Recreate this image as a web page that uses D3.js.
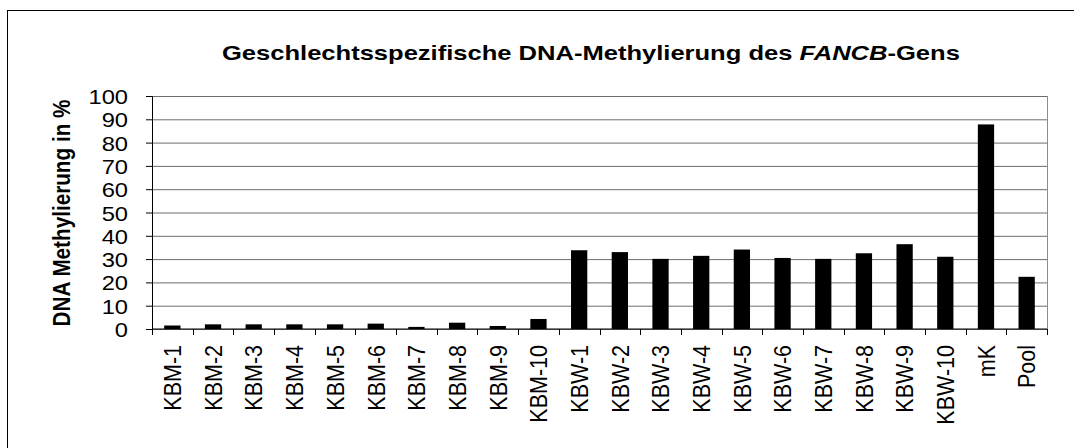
<!DOCTYPE html>
<html>
<head>
<meta charset="utf-8">
<script src="https://cdn.jsdelivr.net/npm/d3@7"></script>
<style>
	body { margin: 0; background: #fff; }
	svg text { font-family: "Liberation Sans", Arial, sans-serif; fill: #000; }
</style>
</head>
<body>
<svg id="graph"></svg>
<script>
var categories = ["KBM-1", "KBM-2", "KBM-3", "KBM-4", "KBM-5", "KBM-6", "KBM-7", "KBM-8", "KBM-9", "KBM-10",
	"KBW-1", "KBW-2", "KBW-3", "KBW-4", "KBW-5", "KBW-6", "KBW-7", "KBW-8", "KBW-9", "KBW-10", "mK", "Pool"];
var methylation = [1.5, 2.0, 2.0, 2.0, 2.0, 2.3, 0.9, 2.7, 1.3, 4.3,
	33.8, 33.0, 30.1, 31.4, 34.1, 30.5, 30.1, 32.5, 36.4, 31.0, 87.8, 22.4];
var yTicks = [0, 10, 20, 30, 40, 50, 60, 70, 80, 90, 100];

var width = 1074, height = 448;
var margin = {top: 96, right: 27, bottom: 119, left: 152};
var plotW = width - margin.left - margin.right,
	plotH = height - margin.top - margin.bottom;
// the picture is a bit wider than tall, text too
var stretch = 1.13;

var svg = d3.select("#graph")
	.attr("width", width)
	.attr("height", height);

// outer frame
svg.append("rect")
	.attr("x", 7.5).attr("y", 10.5)
	.attr("width", width).attr("height", height)
	.attr("fill", "none").attr("stroke", "#000").attr("stroke-width", 1);

var g = svg.append("g")
	.attr("transform", "translate(" + margin.left + "," + margin.top + ")");

var x = d3.scaleBand().domain(categories).range([0, plotW])
	.paddingInner(0.6).paddingOuter(0.3);
var cell = d3.scaleBand().domain(categories).range([0, plotW]);
var y = d3.scaleLinear().domain([0, 100]).range([plotH, 0]);

// grid lines
g.append("g")
	.call(d3.axisLeft(y).tickValues(yTicks).tickSize(-plotW).tickFormat(""))
	.call(function (s) { s.select(".domain").remove(); })
	.selectAll("line").attr("stroke", "#6e6e6e");

// plot border right
g.append("line")
	.attr("x1", plotW + 0.5).attr("x2", plotW + 0.5)
	.attr("y1", 0).attr("y2", plotH)
	.attr("stroke", "#8c8c8c");

// bars
g.selectAll("rect.bar")
	.data(methylation)
	.enter().append("rect")
	.attr("class", "bar")
	.attr("x", function (d, i) { return x(categories[i]); })
	.attr("width", x.bandwidth())
	.attr("y", function (d) { return y(d); })
	.attr("height", function (d) { return plotH - y(d); })
	.attr("fill", "#000");

// y axis
var yAxis = g.append("g")
	.call(d3.axisLeft(y).tickValues(yTicks).tickSize(6).tickPadding(18));
yAxis.select(".domain").attr("stroke", "#000");
yAxis.selectAll("line").attr("stroke", "#000");
yAxis.selectAll("text")
	.style("font-size", "21px")
	.attr("x", -24 / stretch)
	.attr("transform", "scale(" + stretch + ",1)")
	.attr("dy", "0.36em");

// x axis line + ticks between categories
var xa = g.append("g").attr("transform", "translate(0," + plotH + ")");
xa.append("line")
	.attr("x1", 0).attr("x2", plotW)
	.attr("stroke", "#000");
var bounds = categories.map(function (c) { return cell(c); }).concat([plotW]);
xa.selectAll("line.tick")
	.data(bounds)
	.enter().append("line")
	.attr("class", "tick")
	.attr("x1", function (d) { return Math.round(d) + 0.5; })
	.attr("x2", function (d) { return Math.round(d) + 0.5; })
	.attr("y1", 0).attr("y2", 6)
	.attr("stroke", "#000");

xa.selectAll("text.lbl")
	.data(categories)
	.enter().append("text")
	.attr("class", "lbl")
	.attr("transform", function (d) {
		return "translate(" + (cell(d) + cell.bandwidth() / 2) + ",16) scale(" + stretch + ",1) rotate(-90)";
	})
	.attr("text-anchor", "end")
	.attr("dy", "0.36em")
	.style("font-size", "21.5px")
	.text(function (d) { return d; });

// y axis title
var ylab = svg.append("text")
	.attr("text-anchor", "middle")
	.attr("dy", "0.36em")
	.style("font-size", "17px")
	.style("font-weight", "bold")
	.text("DNA Methylierung in %");
var ylen = ylab.node().getComputedTextLength();
ylab.style("font-size", (17 * 227 / ylen) + "px")
	.attr("transform", "translate(62,213) scale(" + stretch + ",1) rotate(-90)");

// title
var title = svg.append("text")
	.style("font-size", "21px")
	.style("font-weight", "bold");
title.append("tspan").text("Geschlechtsspezifische DNA-Methylierung des ");
title.append("tspan").style("font-style", "italic").text("FANCB");
title.append("tspan").text("-Gens");
var tlen = title.node().getComputedTextLength();
title.attr("transform", "translate(222,60) scale(" + (738 / tlen) + ",1)");
</script>
</body>
</html>
